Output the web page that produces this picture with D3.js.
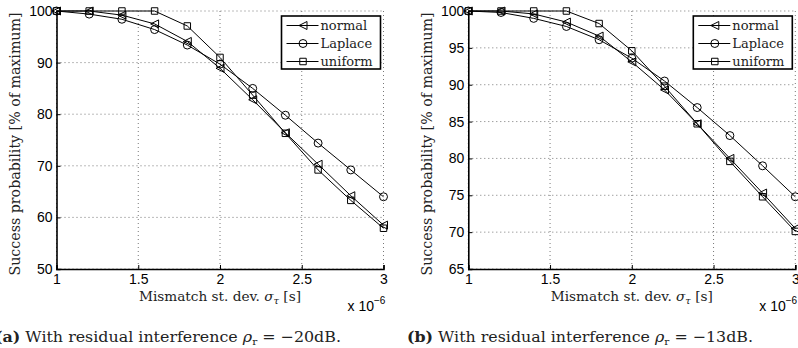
<!DOCTYPE html>
<html>
<head>
<meta charset="utf-8">
<script src="https://cdn.jsdelivr.net/npm/d3@7"></script>
<style>
  html, body { margin: 0; padding: 0; background: #fff; overflow: hidden; }
  svg { display: block; }
  .tick text { font-family: "Liberation Sans", Arial, sans-serif; font-size: 14px; fill: #000; }
  .lbl { font-family: "DejaVu Serif", "Liberation Serif", serif; fill: #222; }
</style>
</head>
<body>
<svg id="fig" width="798" height="348"></svg>
<script>
// ── DATA ────────────────────────────────────────────────────
const sigma = [1.0, 1.2, 1.4, 1.6, 1.8, 2.0, 2.2, 2.4, 2.6, 2.8, 3.0];
const seriesNames = ['normal', 'Laplace', 'uniform'];

// panel (a): rho_r = -20 dB
const aNormal  = [100, 100, 99.2, 97.5, 94.1, 88.9, 82.8, 76.4, 70.3, 64.2, 58.5];
const aLaplace = [100, 99.4, 98.4, 96.4, 93.4, 89.7, 85.0, 79.8, 74.4, 69.2, 64.0];
const aUniform = [100, 100, 100, 100, 97.1, 91.0, 83.7, 76.3, 69.2, 63.3, 57.9];

// panel (b): rho_r = -13 dB
const bNormal  = [100, 100, 99.6, 98.5, 96.6, 93.1, 89.3, 84.7, 80.0, 75.3, 70.5];
const bLaplace = [100, 99.8, 99.0, 97.9, 96.1, 93.6, 90.5, 86.9, 83.1, 79.0, 74.8];
const bUniform = [100, 100, 100, 100, 98.3, 94.6, 89.8, 84.7, 79.6, 74.8, 70.1];

const xTicks = [1, 1.5, 2, 2.5, 3];
const aYTicks = [50, 60, 70, 80, 90, 100];
const bYTicks = [65, 70, 75, 80, 85, 90, 95, 100];

// ── SETUP ───────────────────────────────────────────────────
const svg = d3.select('#fig');
const PLOT_TOP = 11, PLOT_BOTTOM = 269;

const symbols = {
  normal:  d3.symbol().type({ draw(ctx, s) { const r = Math.sqrt(s) / 2;
             ctx.moveTo(-r, 0); ctx.lineTo(r, -r); ctx.lineTo(r, r); ctx.closePath(); } }).size(64),
  Laplace: d3.symbol().type(d3.symbolCircle).size(50),
  uniform: d3.symbol().type(d3.symbolSquare).size(42)
};

function drawPanel(left, right, yDomain, yTicks, series, caption, capX) {
  const x = d3.scaleLinear().domain([1, 3]).range([left, right]);
  const y = d3.scaleLinear().domain(yDomain).range([PLOT_BOTTOM, PLOT_TOP]);
  const g = svg.append('g');

  // dotted grid
  g.append('g').selectAll('line').data(xTicks).join('line')
    .attr('x1', d => x(d)).attr('x2', d => x(d))
    .attr('y1', PLOT_TOP).attr('y2', PLOT_BOTTOM)
    .attr('stroke', '#555').attr('stroke-width', 0.8).attr('stroke-dasharray', '1,3');
  g.append('g').selectAll('line').data(yTicks).join('line')
    .attr('x1', left).attr('x2', right)
    .attr('y1', d => y(d)).attr('y2', d => y(d))
    .attr('stroke', '#555').attr('stroke-width', 0.8).attr('stroke-dasharray', '1,3');

  // axes
  const xAxis = d3.axisBottom(x).tickValues(xTicks).tickSize(-4).tickPadding(4)
    .tickFormat(d3.format('~g'));
  const yAxis = d3.axisLeft(y).tickValues(yTicks).tickSize(-4).tickPadding(4);
  const gx = g.append('g').attr('transform', `translate(0,${PLOT_BOTTOM})`).call(xAxis);
  const gy = g.append('g').attr('transform', `translate(${left},0)`).call(yAxis);
  [gx, gy].forEach(a => {
    a.select('.domain').attr('stroke', '#000').attr('stroke-width', 1.6);
    a.selectAll('.tick line').attr('stroke', '#000');
  });
  gx.selectAll('.tick text').attr('dy', '0.8em');

  // lines and markers
  const line = d3.line().x((d, i) => x(sigma[i])).y(d => y(d));
  series.forEach((vals, k) => {
    const name = seriesNames[k];
    g.append('path').datum(vals).attr('d', line)
      .attr('fill', 'none').attr('stroke', '#000').attr('stroke-width', 1);
    g.append('g').selectAll('path').data(vals).join('path')
      .attr('transform', (d, i) => `translate(${x(sigma[i])},${y(d)})`)
      .attr('d', symbols[name]())
      .attr('fill', 'none').attr('stroke', '#000').attr('stroke-width', 1);
  });

  // legend
  const lx = right - 102, ly = 16;
  const leg = g.append('g').attr('transform', `translate(${lx},${ly})`);
  leg.append('rect').attr('width', 99).attr('height', 53)
    .attr('fill', '#fff').attr('stroke', '#000').attr('stroke-width', 1.6);
  seriesNames.forEach((name, k) => {
    const yy = 9.5 + k * 18;
    leg.append('line').attr('x1', 5).attr('x2', 37).attr('y1', yy).attr('y2', yy)
      .attr('stroke', '#000');
    leg.append('path').attr('transform', `translate(21.5,${yy})`).attr('d', symbols[name]())
      .attr('fill', 'none').attr('stroke', '#000');
    leg.append('text').attr('class', 'lbl').attr('x', 39).attr('y', yy + 4.5)
      .attr('font-size', 13).text(name);
  });

  // axis labels
  const xl = g.append('text').attr('class', 'lbl').attr('x', (left + right) / 2).attr('y', 301)
    .attr('text-anchor', 'middle').attr('font-size', 12.5)
    .attr('textLength', 162).attr('lengthAdjust', 'spacingAndGlyphs');
  xl.append('tspan').text('Mismatch st. dev. ');
  xl.append('tspan').attr('font-style', 'italic').text('σ');
  xl.append('tspan').attr('font-style', 'italic').attr('font-size', 9).attr('dy', 3).text('τ');
  xl.append('tspan').attr('dy', -3).text(' [s]');

  g.append('text').attr('class', 'lbl')
    .attr('transform', `translate(${left - 36.5},${(PLOT_TOP + PLOT_BOTTOM) / 2 + 4}) rotate(-90)`)
    .attr('text-anchor', 'middle').attr('font-size', 14)
    .attr('textLength', 263).attr('lengthAdjust', 'spacingAndGlyphs')
    .text('Success probability [% of maximum]');

  const ex = g.append('text').attr('x', right - 36).attr('y', 310.5)
    .attr('font-family', 'Liberation Sans, Arial, sans-serif').attr('font-size', 14);
  ex.append('tspan').text('x 10');
  ex.append('tspan').attr('font-size', 10).attr('dy', -7).text('−6');

  // caption
  const cap = g.append('text').attr('class', 'lbl').attr('x', capX).attr('y', 342)
    .attr('font-size', 15).attr('fill', '#000')
    .attr('textLength', 346).attr('lengthAdjust', 'spacingAndGlyphs');
  cap.append('tspan').attr('font-weight', 'bold').text(caption[0]);
  cap.append('tspan').text(' With residual interference ');
  cap.append('tspan').attr('font-style', 'italic').text('ρ');
  cap.append('tspan').attr('font-size', 10).attr('dy', 3).text('r');
  cap.append('tspan').attr('dy', -3).text(' = −' + caption[1] + 'dB.');
}

drawPanel(56.5, 383.5, [50, 100], aYTicks, [aNormal, aLaplace, aUniform], ['(a)', '20'], -5);
drawPanel(468.3, 795.3, [65, 100], bYTicks, [bNormal, bLaplace, bUniform], ['(b)', '13'], 407);
</script>
</body>
</html>
